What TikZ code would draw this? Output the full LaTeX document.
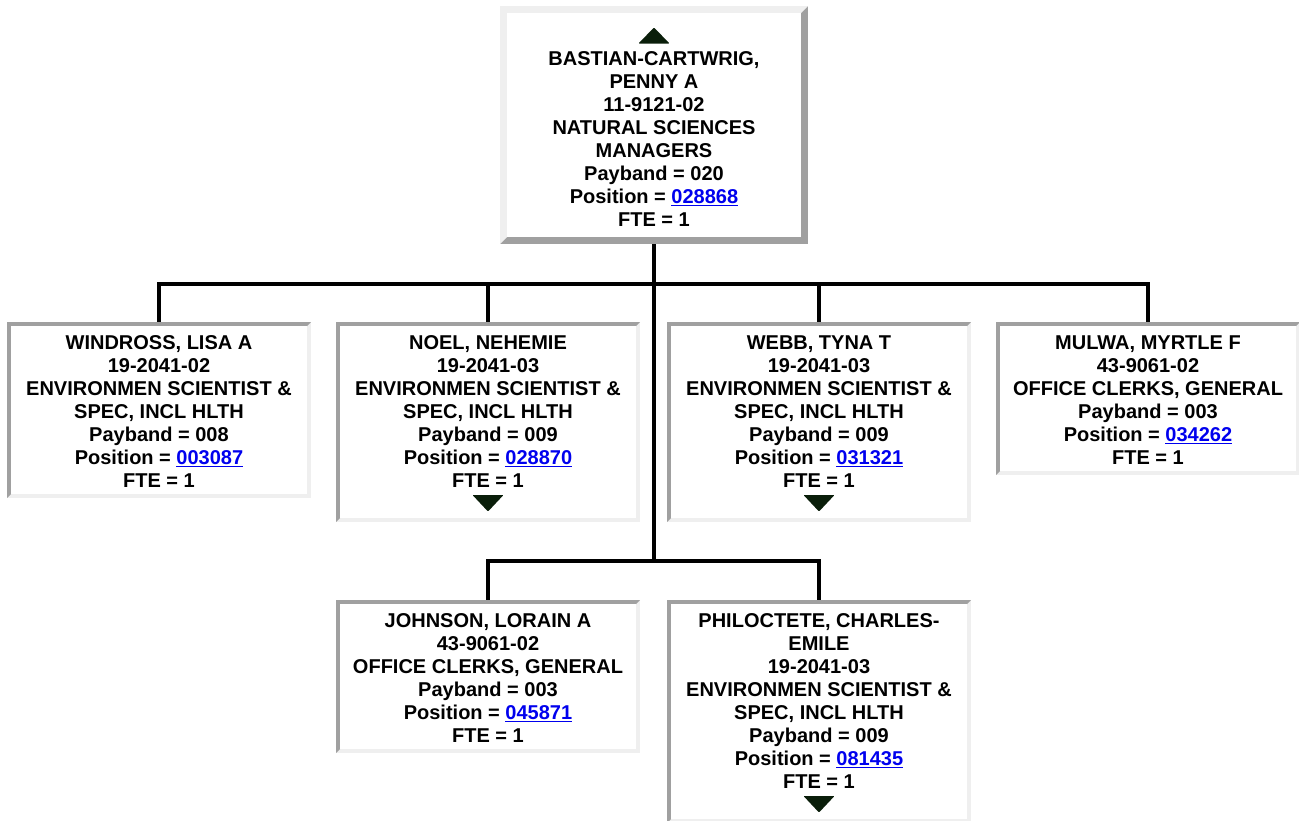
\documentclass[tikz,border=0pt]{standalone}
\usepackage{fontspec}
\setmainfont{Liberation Sans}
\usetikzlibrary{calc}
\definecolor{bdark}{HTML}{A0A0A0}
\definecolor{blight}{HTML}{EFEFEF}
\definecolor{linkblue}{HTML}{0000EE}
\definecolor{tri}{HTML}{0A1E0A}
\newcommand\lnk[1]{\textcolor{linkblue}{\setbox0\hbox{#1}\rlap{\rule[-2.8pt]{\wd0}{1.7pt}}\box0}}
\newcommand\bevel[4]{%
  \fill[#4] (#1.north west) rectangle (#1.south east);
  \fill[#3] (#1.north west) -- (#1.north east) -- ($(#1.north east)+(-#2,-#2)$) -- ($(#1.north west)+(#2,-#2)$) -- ($(#1.south west)+(#2,#2)$) -- (#1.south west) -- cycle;
  \fill[white] ($(#1.north west)+(#2,-#2)$) rectangle ($(#1.south east)+(-#2,#2)$);
}
\newcommand\downtri[1]{\fill[tri,rounded corners=0.8pt] ($(#1.south)+(-15.5pt,27pt)$) -- ($(#1.south)+(15.5pt,27pt)$) -- ($(#1.south)+(0,10.5pt)$) -- cycle;}
\begin{document}
\begin{tikzpicture}[
  orgbox/.style={rectangle, inner sep=0pt, outer sep=0pt, minimum width=304pt, anchor=north west},
  txt/.style={align=center, inner sep=0pt, anchor=north, font=\fontsize{20}{23}\selectfont\bfseries},
  conn/.style={line width=3.2pt, black, line cap=rect, line join=miter}
]
\useasboundingbox (0pt,0pt) rectangle (1299pt,-820pt);
\clip (0pt,0pt) rectangle (1299pt,-820pt);

% boxes (geometry)
\node[orgbox, minimum width=308pt, minimum height=238pt] (top) at (500pt,-6pt) {};
\node[orgbox, minimum height=176pt] (windross) at (7pt,-322pt) {};
\node[orgbox, minimum height=200pt] (noel) at (336pt,-322pt) {};
\node[orgbox, minimum height=200pt] (webb) at (667pt,-322pt) {};
\node[orgbox, minimum height=153pt] (mulwa) at (996pt,-322pt) {};
\node[orgbox, minimum height=153pt] (johnson) at (336pt,-600pt) {};
\node[orgbox, minimum height=223pt] (philoctete) at (667pt,-600pt) {};

\coordinate (j1) at ($(top.south)+(0,-40pt)$);
\coordinate (j2) at ($(top.south)+(0,-317pt)$);

% connectors
\draw[conn] (top.south) -- (j1) -- (j2);
\draw[conn] (windross.north) -- (windross.north |- j1) -- (mulwa.north |- j1) -- (mulwa.north);
\draw[conn] (noel.north |- j1) -- (noel.north);
\draw[conn] (webb.north |- j1) -- (webb.north);
\draw[conn] (johnson.north) -- (johnson.north |- j2) -- (philoctete.north |- j2) -- (philoctete.north);

% bevelled borders
\bevel{top}{7pt}{blight}{bdark}
\bevel{windross}{4pt}{bdark}{blight}
\bevel{noel}{4pt}{bdark}{blight}
\bevel{webb}{4pt}{bdark}{blight}
\bevel{mulwa}{4pt}{bdark}{blight}
\bevel{johnson}{4pt}{bdark}{blight}
\bevel{philoctete}{4pt}{bdark}{blight}

% arrows
\fill[tri,rounded corners=0.8pt] ($(top.north)+(-15.5pt,-37.5pt)$) -- ($(top.north)+(15.5pt,-37.5pt)$) -- ($(top.north)+(0,-21.5pt)$) -- cycle;
\downtri{noel}
\downtri{webb}
\downtri{philoctete}

% texts
\node[txt] (top-t) at ($(top.north)+(0,-43.2pt)$) {\rule{0pt}{16pt}BASTIAN-CARTWRIG,\\PENNY A\\11-9121-02\\NATURAL SCIENCES\\MANAGERS\\Payband = 020\\Position = \lnk{028868}\\FTE = 1};
\node[txt] (windross-t) at ($(windross.north)+(0,-11.2pt)$) {\rule{0pt}{16pt}WINDROSS, LISA A\\19-2041-02\\ENVIRONMEN SCIENTIST \&\\SPEC, INCL HLTH\\Payband = 008\\Position = \lnk{003087}\\FTE = 1};
\node[txt] (noel-t) at ($(noel.north)+(0,-11.2pt)$) {\rule{0pt}{16pt}NOEL, NEHEMIE\\19-2041-03\\ENVIRONMEN SCIENTIST \&\\SPEC, INCL HLTH\\Payband = 009\\Position = \lnk{028870}\\FTE = 1};
\node[txt] (webb-t) at ($(webb.north)+(0,-11.2pt)$) {\rule{0pt}{16pt}WEBB, TYNA T\\19-2041-03\\ENVIRONMEN SCIENTIST \&\\SPEC, INCL HLTH\\Payband = 009\\Position = \lnk{031321}\\FTE = 1};
\node[txt] (mulwa-t) at ($(mulwa.north)+(0,-11.2pt)$) {\rule{0pt}{16pt}MULWA, MYRTLE F\\43-9061-02\\OFFICE CLERKS, GENERAL\\Payband = 003\\Position = \lnk{034262}\\FTE = 1};
\node[txt] (johnson-t) at ($(johnson.north)+(0,-11.2pt)$) {\rule{0pt}{16pt}JOHNSON, LORAIN A\\43-9061-02\\OFFICE CLERKS, GENERAL\\Payband = 003\\Position = \lnk{045871}\\FTE = 1};
\node[txt] (philoctete-t) at ($(philoctete.north)+(0,-11.2pt)$) {\rule{0pt}{16pt}PHILOCTETE, CHARLES-\\EMILE\\19-2041-03\\ENVIRONMEN SCIENTIST \&\\SPEC, INCL HLTH\\Payband = 009\\Position = \lnk{081435}\\FTE = 1};
\end{tikzpicture}
\end{document}
